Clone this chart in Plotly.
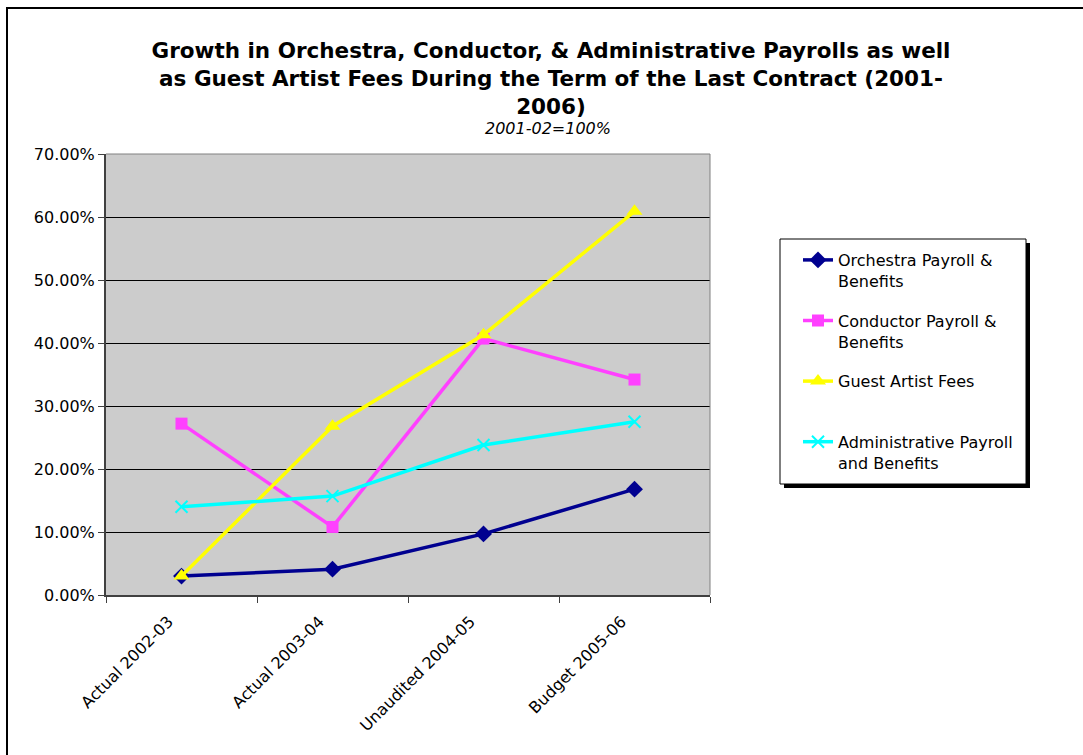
import plotly.graph_objects as go

categories = ["Actual 2002-03", "Actual 2003-04", "Unaudited 2004-05", "Budget 2005-06"]
orchestra = [3.0, 4.1, 9.7, 16.8]
conductor = [27.2, 10.8, 40.7, 34.2]
guest = [3.0, 26.8, 41.3, 60.9]
admin = [14.0, 15.7, 23.8, 27.5]
yticks = [0, 10, 20, 30, 40, 50, 60, 70]
ytick_labels = ["0.00%", "10.00%", "20.00%", "30.00%", "40.00%", "50.00%", "60.00%", "70.00%"]

W, H = 1083, 755
L, R, T, B = 106, 710, 154, 595

def px_x(p):
    return (p - L) / (R - L)

def px_y(p):
    return (B - p) / (B - T)

FONT = "DejaVu Sans, Verdana, sans-serif"

series = [
    ("Orchestra Payroll &<br>Benefits", orchestra, "#000090", "diamond", 13),
    ("Conductor Payroll &<br>Benefits", conductor, "#FF40FF", "square", 12),
    ("Guest Artist Fees<br>\u00a0", guest, "#FFFF00", "triangle-up", 14),
    ("Administrative Payroll<br>and Benefits", admin, "#00FFFF", "x-thin", 12),
]

fig = go.Figure()
for i, (name, vals, color, sym, size) in enumerate(series):
    marker = dict(symbol=sym, size=size, color=color)
    if sym == "x-thin":
        marker["line"] = dict(color=color, width=2)
    fig.add_trace(go.Scatter(
        x=categories, y=vals, name=name, mode="lines+markers",
        line=dict(color=color, width=3.5), marker=marker,
        legendgroup=str(i),
    ))

shapes = [
    dict(type="rect", xref="paper", yref="paper",
         x0=px_x(7), x1=px_x(1100), y0=px_y(8), y1=px_y(770),
         line=dict(color="black", width=2), fillcolor="rgba(0,0,0,0)", layer="below"),
    dict(type="rect", xref="paper", yref="paper",
         x0=px_x(784), x1=px_x(1030), y0=px_y(243), y1=px_y(488),
         line=dict(width=0), fillcolor="black", layer="above"),
    dict(type="rect", xref="paper", yref="paper",
         x0=px_x(780), x1=px_x(1026), y0=px_y(239), y1=px_y(484),
         line=dict(color="black", width=1), fillcolor="white", layer="above"),
    dict(type="line", xref="paper", yref="paper", x0=0, x1=1, y0=1, y1=1,
         line=dict(color="#808080", width=1), layer="above"),
    dict(type="line", xref="paper", yref="paper", x0=1, x1=1, y0=0, y1=1,
         line=dict(color="#808080", width=1), layer="above"),
]

fig.update_layout(
    width=W, height=H,
    margin=dict(l=L, r=W - R, t=T, b=H - B, autoexpand=False),
    paper_bgcolor="white",
    plot_bgcolor="#CCCCCC",
    font=dict(family=FONT, size=16, color="black"),
    title=dict(
        text="Growth in Orchestra, Conductor, & Administrative Payrolls as well<br>"
             "as Guest Artist Fees During the Term of the Last Contract (2001-<br>2006)",
        x=551 / W, xanchor="center", xref="container",
        y=1 - 58 / H, yanchor="top", yref="container",
        font=dict(family=FONT, size=21.5, color="black", weight="bold"),
    ),
    annotations=[dict(
        text="<i>2001-02=100%</i>", xref="paper", yref="paper",
        x=px_x(548), y=px_y(128), xanchor="center", yanchor="middle",
        showarrow=False, font=dict(family=FONT, size=16, color="black"),
    )],
    shapes=shapes,
    showlegend=True,
    legend=dict(
        x=px_x(798), y=px_y(243), xanchor="left", yanchor="top",
        bgcolor="rgba(0,0,0,0)", borderwidth=0,
        font=dict(family=FONT, size=16, color="black"),
        valign="top", tracegroupgap=16,
    ),
    xaxis=dict(
        type="category", tickson="boundaries", ticks="outside", ticklen=6,
        tickcolor="#404040", tickangle=-45, showgrid=False,
        showline=True, linecolor="#404040", linewidth=2,
        tickfont=dict(family=FONT, size=16), range=[-0.5, 3.5],
        ticklabelshift=-13, ticklabelstandoff=9,
    ),
    yaxis=dict(
        range=[0, 70], tickvals=yticks, ticktext=ytick_labels,
        ticks="outside", ticklen=6, tickcolor="#404040",
        showgrid=True, gridcolor="black", gridwidth=1,
        showline=True, linecolor="#404040", linewidth=2, zeroline=False,
        tickfont=dict(family=FONT, size=16),
    ),
)

fig.write_html("out.html")
